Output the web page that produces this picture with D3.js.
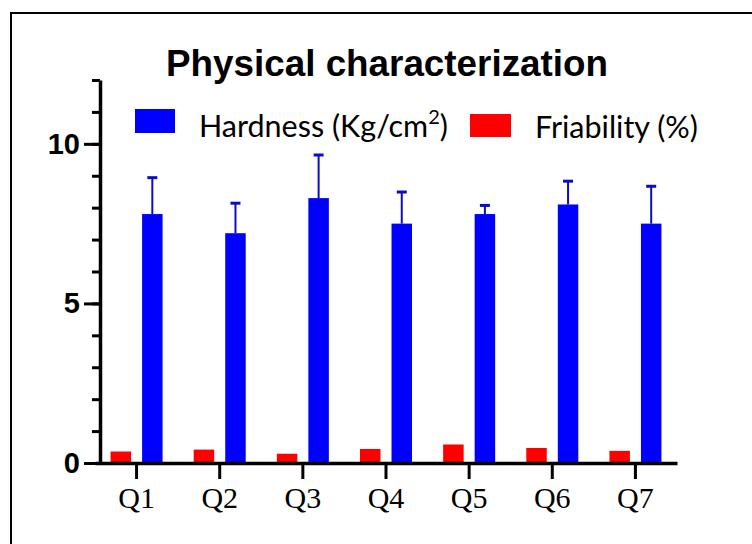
<!DOCTYPE html>
<html>
<head>
<meta charset="utf-8">
<script src="https://cdn.jsdelivr.net/npm/d3@7"></script>
<style>
  body { margin: 0; background: #fff; }
  svg { display: block; }
</style>
</head>
<body>
<div id="chartArea"></div>
<script>
var categories = ["Q1", "Q2", "Q3", "Q4", "Q5", "Q6", "Q7"];
var hardness = [7.8, 7.2, 8.3, 7.5, 7.8, 8.1, 7.5];
var hardnessSD = [1.14, 0.94, 1.35, 0.99, 0.27, 0.73, 1.17];
var friability = [0.36, 0.42, 0.29, 0.44, 0.58, 0.47, 0.38];
var yMajorTicks = [0, 5, 10];
var yMinorTicks = [0, 1, 2, 3, 4, 5, 6, 7, 8, 9, 10, 11, 12];

var W = 752, H = 544;
var blue = "#0000ff", red = "#ff0000", errColor = "#0c0cc4";

var svg = d3.select("#chartArea").append("svg")
  .attr("width", W).attr("height", H);

// figure frame (runs off right and bottom edges)
svg.append("rect")
  .attr("x", 11).attr("y", 13)
  .attr("width", 900).attr("height", 700)
  .attr("fill", "none").attr("stroke", "#000").attr("stroke-width", 2);

var x = d3.scaleBand().domain(categories).range([95, 677]);
var y = d3.scaleLinear().domain([0, 12]).range([463, 80]);
var sub = d3.scaleBand().domain(["fri", "hard"]).range([-26, 26]).paddingInner(0.35);

// title
svg.append("text")
  .attr("x", 166).attr("y", 76)
  .attr("textLength", 442).attr("lengthAdjust", "spacingAndGlyphs")
  .style("font-family", "'Liberation Sans', Arial, sans-serif")
  .style("font-weight", "bold").style("font-size", "36px")
  .text("Physical characterization");

// bars
var groups = svg.append("g").selectAll("g")
  .data(categories).enter().append("g")
  .attr("transform", function (d) { return "translate(" + (x(d) + x.bandwidth() / 2) + ",0)"; });

groups.append("rect")
  .attr("x", sub("fri")).attr("width", sub.bandwidth())
  .attr("y", function (d, i) { return y(friability[i]); })
  .attr("height", function (d, i) { return y(0) - y(friability[i]); })
  .attr("fill", red);

groups.append("rect")
  .attr("x", sub("hard")).attr("width", sub.bandwidth())
  .attr("y", function (d, i) { return y(hardness[i]); })
  .attr("height", function (d, i) { return y(0) - y(hardness[i]); })
  .attr("fill", blue);

// error bars (upper only)
var cx = sub("hard") + sub.bandwidth() / 2;
groups.append("line")
  .attr("x1", cx).attr("x2", cx)
  .attr("y1", function (d, i) { return y(hardness[i]); })
  .attr("y2", function (d, i) { return y(hardness[i] + hardnessSD[i]); })
  .attr("stroke", errColor).attr("stroke-width", 2);
groups.append("line")
  .attr("x1", cx - 5).attr("x2", cx + 5)
  .attr("y1", function (d, i) { return y(hardness[i] + hardnessSD[i]); })
  .attr("y2", function (d, i) { return y(hardness[i] + hardnessSD[i]); })
  .attr("stroke", errColor).attr("stroke-width", 3);

// y axis: minor then major
svg.append("g")
  .attr("transform", "translate(100,0)")
  .call(d3.axisLeft(y).tickValues(yMinorTicks).tickSize(8).tickSizeOuter(0).tickFormat(""))
  .call(function (g) {
    g.select(".domain").attr("stroke-width", 3.5);
    g.selectAll(".tick line").attr("stroke-width", 3);
  });

svg.append("g")
  .attr("transform", "translate(100,0)")
  .call(d3.axisLeft(y).tickValues(yMajorTicks).tickSize(16).tickSizeOuter(0).tickPadding(4).tickFormat(d3.format("d")))
  .call(function (g) {
    g.select(".domain").remove();
    g.selectAll(".tick line").attr("stroke-width", 3);
    g.selectAll(".tick text")
      .style("font-family", "'Liberation Sans', Arial, sans-serif")
      .style("font-weight", "bold").style("font-size", "29px")
      .attr("fill", "#000");
  });

// x axis
svg.append("g")
  .attr("transform", "translate(0," + y(0) + ")")
  .call(d3.axisBottom(x).tickSize(16).tickSizeOuter(0))
  .call(function (g) {
    g.select(".domain").attr("stroke-width", 3.5);
    g.selectAll(".tick line").attr("stroke-width", 3);
    g.selectAll(".tick text")
      .attr("y", 45).attr("dy", 0)
      .style("font-family", "'Liberation Serif', 'Times New Roman', serif")
      .style("font-size", "30px")
      .attr("fill", "#000");
  });

// legend
var legendFont = "Lato, 'Open Sans', sans-serif";
svg.append("rect").attr("x", 135).attr("y", 109).attr("width", 40).attr("height", 24).attr("fill", blue);
var t1 = svg.append("text")
  .attr("x", 199).attr("y", 137)
  .style("font-family", legendFont).style("font-size", "30.5px");
t1.append("tspan").text("Hardness (Kg/cm");
t1.append("tspan").attr("dy", -13).style("font-size", "20px").text("2");
t1.append("tspan").attr("dy", 13).text(")");

svg.append("rect").attr("x", 470).attr("y", 114).attr("width", 41).attr("height", 23).attr("fill", red);
svg.append("text")
  .attr("x", 535).attr("y", 138)
  .style("font-family", legendFont).style("font-size", "30.5px")
  .text("Friability (%)");
</script>
</body>
</html>
